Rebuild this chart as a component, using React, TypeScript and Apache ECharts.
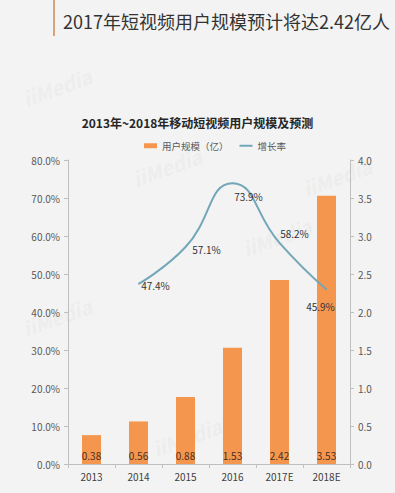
import React, { useEffect, useRef } from "react";
import * as echarts from "echarts";

const categories = ["2013", "2014", "2015", "2016", "2017E", "2018E"];
const users = [0.38, 0.56, 0.88, 1.53, 2.42, 3.53];
const growth: (number | null)[] = [null, 47.4, 57.1, 73.9, 58.2, 45.9];
const growthLabelPos: ([number, number] | null)[] = [null, [17, 2], [21, 2], [16, 13], [15, -9], [-6, 17]];

const FONT = "'Noto Sans CJK SC', 'Noto Sans', sans-serif";

export default function App() {
  const ref = useRef<HTMLDivElement>(null);
  useEffect(() => {
    document.body.style.margin = "0";
    const chart = echarts.init(ref.current!, null, { renderer: "svg" });
    chart.setOption({
      animation: false,
      backgroundColor: "#f3f3f3",
      textStyle: { fontFamily: FONT },
      title: [
        {
          text: "2017年短视频用户规模预计将达2.42亿人",
          left: 58,
          top: 7,
          textStyle: { fontSize: 18, fontWeight: "normal", color: "#333", fontFamily: FONT },
        },
        {
          text: "2013年~2018年移动短视频用户规模及预测",
          left: "center",
          top: 111,
          textStyle: { fontSize: 12, fontWeight: "bold", color: "#262626", fontFamily: FONT },
        },
      ],
      graphic: [
        { type: "rect", shape: { x: 53, y: 0, width: 2, height: 36 }, style: { fill: "#d9a27a" } },
        ...[
          [20, 90], [20, 320], [130, 170], [240, 240], [300, 180], [150, 440],
        ].map(([x, y]) => ({
          type: "text",
          x,
          y,
          rotation: Math.PI / 9,
          style: { text: "iiMedia", fontSize: 20, fontStyle: "italic", fontWeight: "bold", fill: "rgba(205,205,205,0.18)", fontFamily: FONT },
        })),
      ],
      legend: {
        top: 136,
        left: 139,
        itemWidth: 13,
        itemHeight: 5,
        itemGap: 10,
        textStyle: { fontSize: 9.5, color: "#595959", fontFamily: FONT },
        data: [
          { name: "用户规模（亿）", icon: "rect" },
          { name: "增长率", itemStyle: { opacity: 0 } },
        ],
      },
      grid: { left: 68, right: 45, top: 160, bottom: 29 },
      xAxis: {
        type: "category",
        data: categories,
        axisLine: { lineStyle: { color: "#bfbfbf" } },
        axisTick: { show: true, alignWithLabel: false, length: 4, lineStyle: { color: "#bfbfbf" } },
        axisLabel: { color: "#404040", fontSize: 10, margin: 7, fontFamily: FONT },
      },
      yAxis: [
        {
          type: "value",
          min: 0,
          max: 80,
          interval: 10,
          axisLine: { show: true, lineStyle: { color: "#bfbfbf" } },
          axisTick: { show: true, length: 4, lineStyle: { color: "#bfbfbf" } },
          splitLine: { show: false },
          axisLabel: { color: "#595959", fontSize: 10, margin: 8, fontFamily: FONT, formatter: (v: number) => v.toFixed(1) + "%" },
        },
        {
          type: "value",
          min: 0,
          max: 4,
          interval: 0.5,
          position: "right",
          axisLine: { show: true, lineStyle: { color: "#bfbfbf" } },
          axisTick: { show: true, length: 4, lineStyle: { color: "#bfbfbf" } },
          splitLine: { show: false },
          axisLabel: { color: "#595959", fontSize: 10, margin: 8, fontFamily: FONT, formatter: (v: number) => v.toFixed(1) },
        },
      ],
      series: [
        {
          name: "用户规模（亿）",
          type: "bar",
          yAxisIndex: 1,
          data: users,
          barWidth: 19,
          itemStyle: { color: "#f5964f" },
          label: {
            show: true,
            position: "insideBottom",
            distance: 4,
            color: "#4a3020",
            fontSize: 10,
            fontFamily: FONT,
            formatter: (p: any) => p.value.toFixed(2),
          },
        },
        {
          name: "增长率",
          type: "line",
          yAxisIndex: 0,
          smooth: 0.5,
          showSymbol: true,
          symbol: "circle",
          symbolSize: 1,
          lineStyle: { color: "#72a7b8", width: 2 },
          itemStyle: { color: "#72a7b8" },
          data: growth.map((v, i) => ({
            value: v,
            label: {
              show: v !== null,
              position: "inside",
              offset: growthLabelPos[i] ?? [0, 0],
              color: "#333",
              fontSize: 10,
              fontFamily: FONT,
              formatter: (p: any) => p.value.toFixed(1) + "%",
            },
          })),
        },
      ],
    });
    return () => chart.dispose();
  }, []);
  return <div ref={ref} style={{ position: "absolute", left: 0, top: 0, width: 395, height: 493 }} />;
}
